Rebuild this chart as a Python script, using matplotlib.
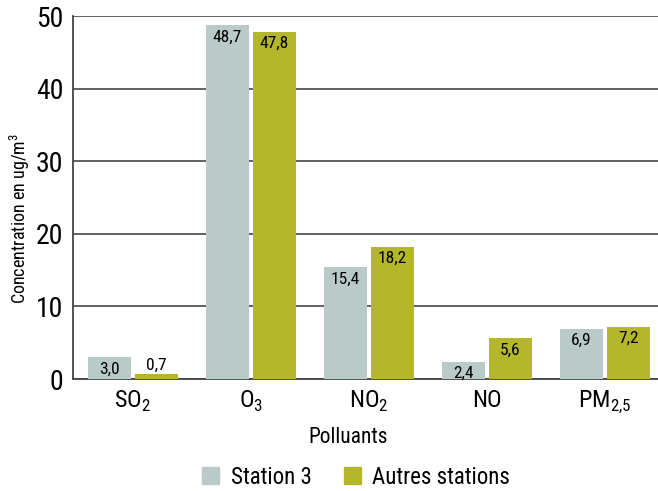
import matplotlib
matplotlib.use("Agg")
import matplotlib.pyplot as plt
import numpy as np
from matplotlib.patches import Patch
from matplotlib import font_manager

names = {f.name for f in font_manager.fontManager.ttflist}
fams = ['Roboto Condensed', 'Liberation Sans Narrow', 'Open Sans Condensed', 'Roboto', 'DejaVu Sans']
main = next(f for f in fams if f in names)
plt.rcParams['font.family'] = [main, 'DejaVu Sans']
plt.rcParams['mathtext.fontset'] = 'custom'
plt.rcParams['mathtext.rm'] = main

categories = [r'SO$_\mathregular{2}$', r'O$_\mathregular{3}$', r'NO$_\mathregular{2}$', 'NO', r'PM$_\mathregular{2{,}5}$']
station3 = [3.0, 48.7, 15.4, 2.4, 6.9]
autres = [0.7, 47.8, 18.2, 5.6, 7.2]
series_names = ['Station 3', 'Autres stations']
yticks = [0, 10, 20, 30, 40, 50]

c_gray = '#BACAC8'
c_olive = '#B4B62C'

fig = plt.figure(figsize=(6.58, 4.91), dpi=100)
ax = fig.add_axes([73/658, 1-379/491, 1-73/658, (379-16)/491])

x = np.arange(len(categories))
w = 0.364
off = 0.199
b1 = ax.bar(x - off, station3, w, color=c_gray, zorder=3)
b2 = ax.bar(x + off, autres, w, color=c_olive, zorder=3)

def fmt(v):
    return f"{v:.1f}".replace('.', ',')

for bars, vals in ((b1, station3), (b2, autres)):
    for r, v in zip(bars, vals):
        cx = r.get_x() + r.get_width() / 2
        if v < 1.5:
            ax.annotate(fmt(v), (cx, v), xytext=(0, 1), textcoords='offset points',
                        ha='center', va='bottom', fontsize=12.5, zorder=4)
        else:
            ax.annotate(fmt(v), (cx, v), xytext=(0, -3), textcoords='offset points',
                        ha='center', va='top', fontsize=12.5, zorder=4)

ax.set_ylim(0, 50)
ax.set_xlim(-0.508, 4.449)
ax.set_yticks(yticks)
ax.set_yticklabels([str(t) for t in yticks], fontsize=20)
ax.set_xticks(x)
ax.set_xticklabels(categories, fontsize=17.5)
ax.tick_params(axis='y', length=0, pad=7)
ax.tick_params(axis='x', length=0, pad=7)
ax.yaxis.grid(True, color='#555555', linewidth=1.3, zorder=0)
ax.set_axisbelow(True)
for s in ('top', 'right'):
    ax.spines[s].set_visible(False)
for s in ('left', 'bottom'):
    ax.spines[s].set_color('#444444')
    ax.spines[s].set_linewidth(1.3)

ax.set_ylabel('Concentration en ug/m$^\mathregular{3}$', fontsize=13)
ax.yaxis.set_label_coords(-0.070, 0.443)
ax.set_xlabel('Polluants', fontsize=15.5)
ax.xaxis.set_label_coords(0.47, -0.133)

handles = [Patch(color=c_gray), Patch(color=c_olive)]
fig.legend(handles, series_names, loc='center', bbox_to_anchor=(356/658, 1-477/491),
           ncol=2, frameon=False, fontsize=16.5, handlelength=0.75, handleheight=0.75,
           handletextpad=0.5, columnspacing=1.4, borderpad=0)

fig.savefig('out.png', dpi=100)
